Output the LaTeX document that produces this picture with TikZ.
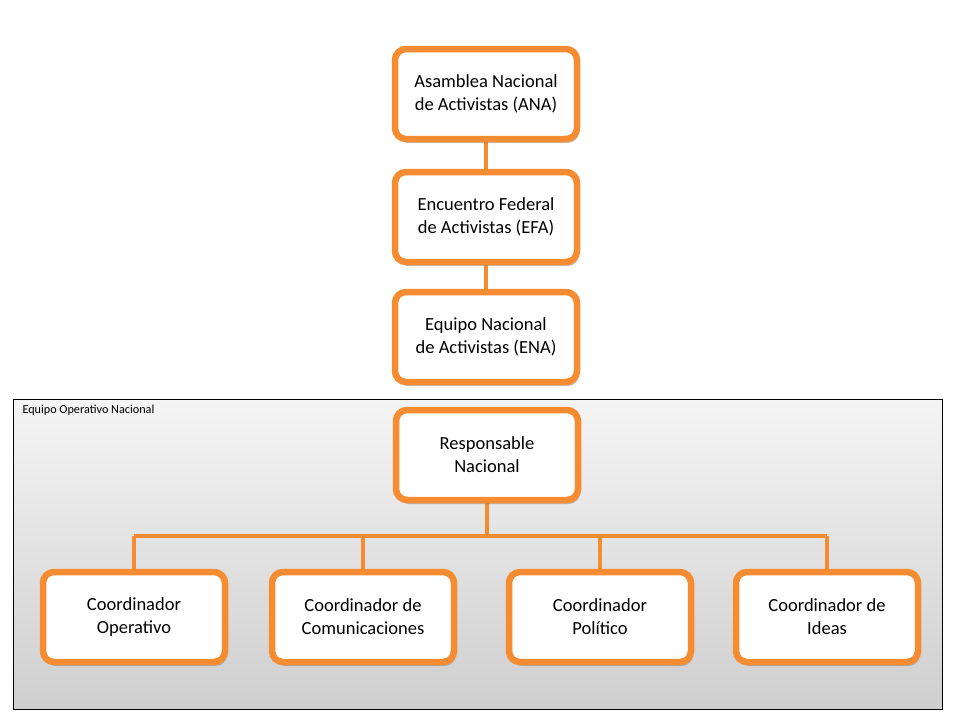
\documentclass[tikz,border=0pt]{standalone}
\usepackage{fontspec}
\setmainfont{Carlito}
\usetikzlibrary{shadows}
\definecolor{naranja}{RGB}{246,140,50}
\tikzset{
  cargo/.style={draw=naranja, line width=6.5pt, rounded corners=11pt, fill=white,
    minimum width=182pt, minimum height=90pt, align=center,
    font=\fontsize{18.5}{23}\selectfont,
    drop shadow={shadow xshift=2pt, shadow yshift=-4pt, opacity=0.45}},
  enlace/.style={draw=naranja, line width=3.5pt}
}
\begin{document}
\begin{tikzpicture}[x=1pt,y=-1pt]
\useasboundingbox (0,0) rectangle (960,720);
% contenedor
\shade [top color=gray!8, bottom color=gray!38, draw=black, line width=0.8pt] (13,399) rectangle (942,709);
\node [anchor=west, font=\fontsize{12.2}{14}\selectfont] (eon) at (19,410) {Equipo Operativo Nacional};
% enlaces
\coordinate (barra) at (487,536);
\draw [enlace] (486,94) -- (486,337);
\draw [enlace] (487,455) -- (barra);
\draw [enlace] (134,536) -- (827,536);
\foreach \x in {134,363,600,827}
  \draw [enlace] (\x,536) -- (\x,617);
% cargos
\node [cargo] (ana) at (486,94) {Asamblea Nacional\\de Activistas (ANA)};
\node [cargo] (efa) at (486,217) {Encuentro Federal\\de Activistas (EFA)};
\node [cargo] (ena) at (486,337) {Equipo Nacional\\de Activistas (ENA)};
\node [cargo] (resp) at (487,455) {Responsable\\Nacional};
\node [cargo] (oper) at (134,617) {Coordinador\\Operativo};
\node [cargo] (comu) at (363,617) {Coordinador de\\Comunicaciones};
\node [cargo] (poli) at (600,617) {Coordinador\\Político};
\node [cargo] (ideas) at (827,617) {Coordinador de\\Ideas};
\end{tikzpicture}
\end{document}
